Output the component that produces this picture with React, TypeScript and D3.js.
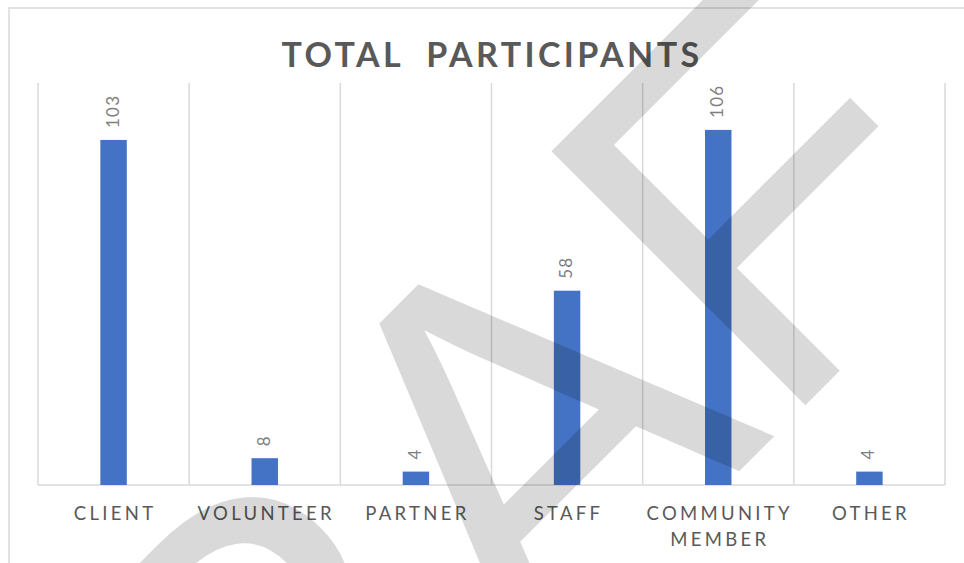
import React from "react";
import * as d3 from "d3";

const categories = ["CLIENT", "VOLUNTEER", "PARTNER", "STAFF", "COMMUNITY MEMBER", "OTHER"];
const categoryLines = [["CLIENT"], ["VOLUNTEER"], ["PARTNER"], ["STAFF"], ["COMMUNITY", "MEMBER"], ["OTHER"]];
const values = [103, 8, 4, 58, 106, 4];
const yDomain = [0, 120];
const title = "TOTAL  PARTICIPANTS";
const watermark = "DRAFT";

const W = 964;
const H = 563;
const plot = { left: 38, right: 945, top: 83, bottom: 485 };

export default function App() {
  const x = d3.scaleBand<string>().domain(categories).range([plot.left, plot.right]).paddingInner(0).paddingOuter(0);
  const y = d3.scaleLinear().domain(yDomain).range([plot.bottom, plot.top]);
  const bw = x.bandwidth() * 0.175;
  const boundaries = categories.map((c) => x(c) as number).concat([plot.right]);
  const grid = "#d9d9d9";

  return (
    <svg width={W} height={H} style={{ position: "absolute", left: 0, top: 0, background: "#fff" }}>
      <rect x={0} y={0} width={W} height={H} fill="#fff" />
      <rect x={9} y={8} width={W + 20} height={H + 20} fill="none" stroke={grid} strokeWidth={1.5} />
      <text
        x={492}
        y={67}
        textAnchor="middle"
        fontFamily="Lato, 'Open Sans', sans-serif"
        fontWeight={700}
        fontSize={34}
        letterSpacing={3.4}
        fill="#595959"
        style={{ whiteSpace: "pre" }}
      >
        {title}
      </text>
      {boundaries.map((bx, i) => (
        <line key={i} x1={bx} x2={bx} y1={plot.top} y2={plot.bottom} stroke={grid} strokeWidth={1.5} />
      ))}
      <line x1={plot.left} x2={plot.right} y1={plot.bottom} y2={plot.bottom} stroke={grid} strokeWidth={1.5} />
      {categories.map((c, i) => {
        const cx = (x(c) as number) + x.bandwidth() / 2;
        return (
          <g key={c}>
            <rect x={cx - bw / 2} y={y(values[i])} width={bw} height={plot.bottom - y(values[i])} fill="#4472c4" />
            <text
              transform={`translate(${cx + 5},${y(values[i]) - 12}) rotate(-90)`}
              fontFamily="Lato, sans-serif"
              fontSize={17}
              letterSpacing={1.2}
              fill="#7f7f7f"
            >
              {values[i]}
            </text>
            {categoryLines[i].map((ln, j) => (
              <text
                key={j}
                x={cx + 1.5}
                y={520 + j * 26}
                textAnchor="middle"
                fontFamily="Lato, sans-serif"
                fontSize={18.5}
                letterSpacing={3.3}
                fill="#595959"
              >
                {ln}
              </text>
            ))}
          </g>
        );
      })}
      <text
        transform="rotate(-45)"
        x={-862}
        y={856}
        fontFamily="'Liberation Sans', Arial, sans-serif"
        fontSize={522}
        fill="#000"
        fillOpacity={0.15}
      >
        {watermark}
      </text>
    </svg>
  );
}
